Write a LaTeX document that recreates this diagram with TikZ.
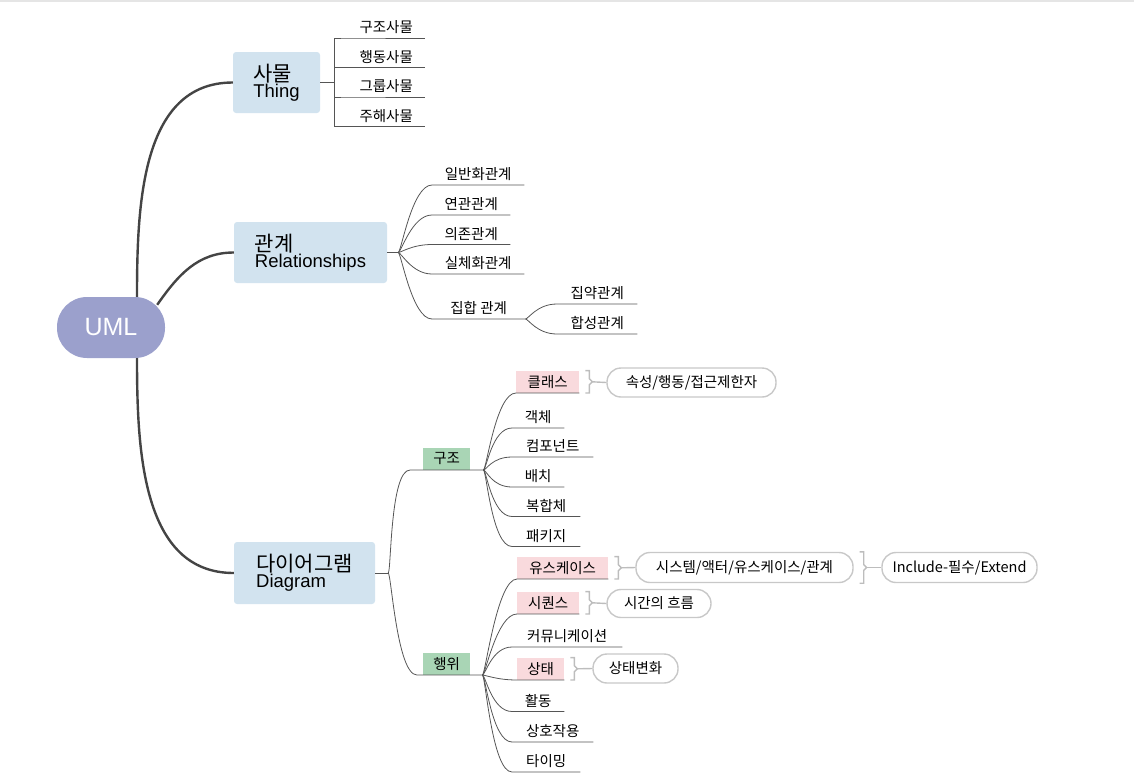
\documentclass[tikz,border=0pt]{standalone}
\usepackage{fontspec}
\setmainfont{Noto Sans CJK KR}
\newfontfamily\latinfont{Liberation Sans}
\usetikzlibrary{backgrounds}

\definecolor{umlfill}{HTML}{9BA0CC}
\definecolor{topicfill}{HTML}{D2E3EF}
\definecolor{greenfill}{HTML}{A9D5B5}
\definecolor{pinkfill}{HTML}{F9DADD}
\definecolor{branchgray}{HTML}{444444}
\definecolor{twiggray}{HTML}{555555}
\definecolor{pillgray}{HTML}{C8C8C8}
\definecolor{bracegray}{HTML}{BDBDBD}

\newcommand\topictext[2]{{\fontsize{21}{20}\selectfont #1}\\{\latinfont\fontsize{18.5}{20}\selectfont #2}}
\newcommand\bracelink[2]{%
  \draw[brace] ([xshift=6pt]#1.north east) -- ([xshift=10pt]#1.north east)
    -- ([xshift=10pt,yshift=3pt]#1.east) -- ([xshift=13pt]#1.east)
    -- ([xshift=10pt,yshift=-3pt]#1.east) -- ([xshift=10pt]#1.south east)
    -- ([xshift=6pt]#1.south east);
  \draw[brace] ([xshift=13pt]#1.east) -- (#2.west);}

\begin{document}
\begin{tikzpicture}[x=1pt,y=-1pt,
  branch/.style={draw=branchgray,line width=2.4pt},
  twig/.style={draw=twiggray,line width=0.8pt},
  fanout/.style={out=0,in=180,out distance=3pt,in distance=20pt},
  topic/.style={fill=topicfill,rounded corners=3pt,align=left,inner sep=0pt},
  leaf/.style={anchor=south west,inner xsep=0pt,inner ysep=4pt,font=\fontsize{14.5}{16}\selectfont},
  tag/.style={leaf,inner ysep=0pt,minimum height=22pt},
  pinkbox/.style={tag,fill=pinkfill},
  greenbox/.style={tag,fill=greenfill},
  pill/.style={draw=pillgray,line width=1.4pt,fill=white,rounded corners=14pt,
    minimum height=29pt,inner sep=0pt,font=\fontsize{14.5}{16}\selectfont},
  brace/.style={draw=bracegray,line width=1.4pt}]

  \useasboundingbox (0,0) rectangle (1134,782);
  \draw[gray!20,line width=2pt] (0,1) -- (1134,1);

  \node[fill=umlfill,rounded corners=30pt,minimum width=108pt,minimum height=61pt,
    text=white,font=\latinfont\fontsize{25}{25}\selectfont] (uml) at (111,327.5) {UML};

  \node[topic,minimum width=87pt,minimum height=61pt] (thing) at (276.5,82.5) {\topictext{사물}{Thing}};
  \node[topic,minimum width=153pt,minimum height=61pt] (rel) at (310.5,252.5) {\topictext{관계}{Relationships}};
  \node[topic,minimum width=141pt,minimum height=62pt] (dia) at (304.5,573) {\topictext{다이어그램}{Diagram}};

  % things
  \node[leaf,minimum width=78pt] (t1) at (347,38) {구조사물};
  \node[leaf,minimum width=78pt] (t2) at (347,67.5) {행동사물};
  \node[leaf,minimum width=78pt] (t3) at (347,97) {그룹사물};
  \node[leaf,minimum width=78pt] (t4) at (347,126.5) {주해사물};

  % relationships
  \node[leaf,minimum width=92pt] (r1) at (432,185) {일반화관계};
  \node[leaf,minimum width=78pt] (r2) at (432,215) {연관관계};
  \node[leaf,minimum width=78pt] (r3) at (432,244.5) {의존관계};
  \node[leaf,minimum width=92pt] (r4) at (432,274) {실체화관계};
  \node[leaf,minimum width=93pt] (r5) at (432,319) {집합 관계};
  \node[leaf,minimum width=80pt] (s1) at (557,304) {집약관계};
  \node[leaf,minimum width=80pt] (s2) at (557,334) {합성관계};

  % diagrams
  \node[greenbox,minimum width=47pt] (gj) at (423,470) {구조};
  \node[greenbox,minimum width=47pt] (hw) at (423,675) {행위};

  \node[pinkbox,minimum width=63pt] (c1) at (516,393) {클래스};
  \node[leaf,minimum width=52pt] (c2) at (512,428) {객체};
  \node[leaf,minimum width=81pt] (c3) at (512,457) {컴포넌트};
  \node[leaf,minimum width=52pt] (c4) at (512,487) {배치};
  \node[leaf,minimum width=68pt] (c5) at (512,516.5) {복합체};
  \node[leaf,minimum width=68pt] (c6) at (512,546.5) {패키지};

  \node[pinkbox,minimum width=91pt] (b1) at (517,579) {유스케이스};
  \node[pinkbox,minimum width=62pt] (b2) at (517,614) {시퀀스};
  \node[leaf,minimum width=110pt] (b3) at (512,647) {커뮤니케이션};
  \node[pinkbox,minimum width=47pt] (b4) at (517,680) {상태};
  \node[leaf,minimum width=52pt] (b5) at (512,711.5) {활동};
  \node[leaf,minimum width=81pt] (b6) at (512,742) {상호작용};
  \node[leaf,minimum width=68pt] (b7) at (512,772) {타이밍};

  \node[pill,minimum width=169pt] (p1) at (691.5,382.5) {속성/행동/접근제한자};
  \node[pill,minimum width=217pt,minimum height=30pt] (p2) at (744.5,567.5) {시스템/액터/유스케이스/관계};
  \node[pill,minimum width=155pt,minimum height=30pt] (p3) at (959.5,567.5) {Include-필수/Extend};
  \node[pill,minimum width=104pt,minimum height=28pt] (p4) at (659,603.5) {시간의 흐름};
  \node[pill,minimum width=85pt] (p5) at (635.5,668.5) {상태변화};

  \begin{scope}[on background layer]
    \draw[branch] ([xshift=26pt]uml.north) to[out=90,in=180] (thing.west);
    \draw[branch] ([xshift=-8pt,yshift=-8pt]uml.north east) to[out=55,in=180] (rel.west);
    \draw[branch] ([xshift=26pt]uml.south) to[out=-90,in=180] (dia.west);
  \end{scope}

  \foreach \n in {t1,t2,t3,t4}
    \draw[twig] (thing.east) -- ++(14,0) |- (\n.south west) -- (\n.south east);

  \draw[twig] (rel.east) -- ++(11,0) coordinate (rfan);
  \foreach \i in {1,...,5}
    \draw[twig] (rfan) to[fanout] (r\i.south west) -- (r\i.south east);
  \foreach \i in {1,2}
    \draw[twig] (r5.south east) to[fanout] (s\i.south west) -- (s\i.south east);

  \draw[twig] (dia.east) -- ++(13,0) coordinate (dfan);
  \draw[twig] (dfan) to[fanout] ([xshift=-13pt]gj.south west) -- ([xshift=13pt]gj.south east) coordinate (sfan);
  \draw[twig] (dfan) to[fanout] ([xshift=-6pt]hw.south west) -- ([xshift=12pt]hw.south east) coordinate (bfan);
  \foreach \i in {1,...,6}
    \draw[twig] (sfan) to[fanout] (c\i.south west) -- (c\i.south east);
  \foreach \i in {1,...,7}
    \draw[twig] (bfan) to[fanout] (b\i.south west) -- (b\i.south east);

  \bracelink{c1}{p1}
  \bracelink{b1}{p2}
  \bracelink{p2}{p3}
  \bracelink{b2}{p4}
  \bracelink{b4}{p5}
\end{tikzpicture}
\end{document}
